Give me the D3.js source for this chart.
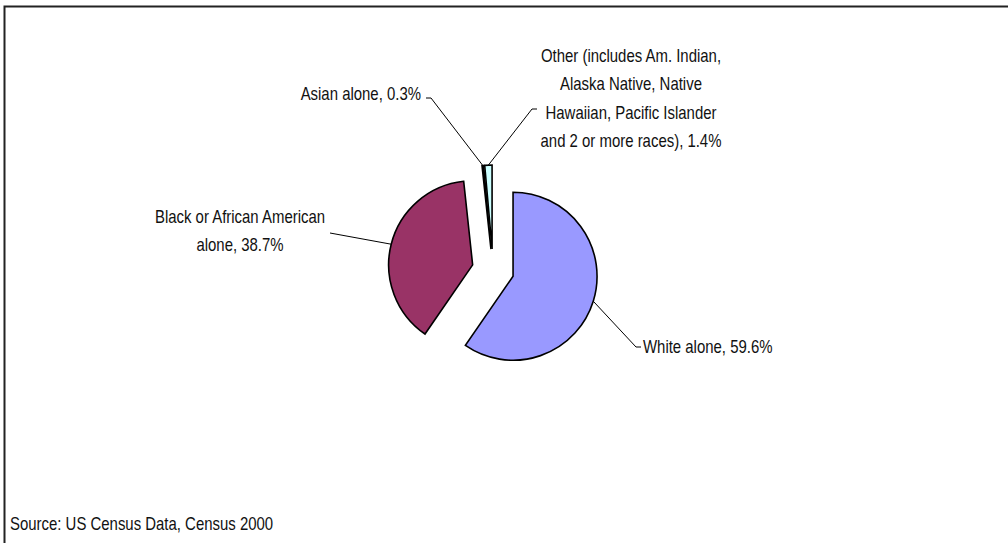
<!DOCTYPE html>
<html>
<head>
<meta charset="utf-8">
<script src="https://cdn.jsdelivr.net/npm/d3@7"></script>
<style>
    body { margin: 0; background: #fff; }
    svg text { font-family: "Liberation Sans", Arial, sans-serif; font-size: 18px; fill: #111; }
</style>
</head>
<body>
<svg id="chart" width="1008" height="543"></svg>
<script>
// data
var categories = ["White alone", "Black or African American alone", "Asian alone",
    "Other (includes Am. Indian, Alaska Native, Native Hawaiian, Pacific Islander and 2 or more races)"];
var shares = [59.6, 38.7, 0.3, 1.4];
var colors = ["#9999ff", "#993366", "#ffffcc", "#ccffff"];
var labelLines = [
    ["White alone, 59.6%"],
    ["Black or African American", "alone, 38.7%"],
    ["Asian alone, 0.3%"],
    ["Other (includes Am. Indian,", "Alaska Native, Native", "Hawaiian, Pacific Islander", "and 2 or more races), 1.4%"]
];

var svg = d3.select("#chart");
var squeeze = 0.83; // the original text is a narrow face

// chart area border (runs off the right and bottom edge)
svg.append("path")
    .attr("d", "M4.5,543V6.5H1008")
    .attr("fill", "none")
    .attr("stroke", "#222")
    .attr("stroke-width", 2);

var cx = 493, cy = 270, radius = 84, explode = 21;

var pie = d3.pie().sort(null).value(function(d) { return d; });
var arcs = pie(shares);
var arc = d3.arc().innerRadius(0).outerRadius(radius);

function mid(d) { return (d.startAngle + d.endAngle) / 2; }
function offset(d) {
    var a = mid(d);
    return [explode * Math.sin(a), -explode * Math.cos(a)];
}
// point on the rim of the exploded slice, at its middle angle
function rim(d) {
    var a = mid(d), o = offset(d);
    return [cx + o[0] + radius * Math.sin(a), cy + o[1] - radius * Math.cos(a)];
}

var g = svg.append("g").attr("transform", "translate(" + cx + "," + cy + ")");
g.selectAll("path.slice")
    .data(arcs)
    .enter().append("path")
    .attr("class", "slice")
    .attr("transform", function(d) { var o = offset(d); return "translate(" + o[0] + "," + o[1] + ")"; })
    .attr("d", arc)
    .attr("fill", function(d, i) { return colors[i]; })
    .attr("stroke", "#000")
    .attr("stroke-width", 1.6)
    .attr("stroke-linejoin", "miter");

function narrowText(x, y, anchor, lines) {
    var t = svg.append("text")
        .attr("text-anchor", anchor)
        .attr("transform", "translate(" + x + "," + y + ") scale(" + squeeze + ",1)");
    lines.forEach(function(s, k) {
        t.append("tspan").attr("x", 0).attr("y", k * 28.5).text(s);
    });
}

// label layout: text anchor, first baseline, leader elbow points
var layout = [
    {x: 643, y: 353, anchor: "start", leader: function(p) { return [p, [636, 347], [641, 347]]; }},
    {x: 240, y: 223, anchor: "middle", leader: function(p) { return [[330, 233], p]; }},
    {x: 421, y: 100, anchor: "end", leader: function(p) { return [[426, 98], [431, 98], p]; }},
    {x: 631, y: 62, anchor: "middle", leader: function(p) { return [[537, 109], [532, 109], p]; }}
];

var line = d3.line();
arcs.forEach(function(d, i) {
    var L = layout[i];
    svg.append("path")
        .attr("d", line(L.leader(rim(d))))
        .attr("fill", "none")
        .attr("stroke", "#000")
        .attr("stroke-width", 1);
    narrowText(L.x, L.y, L.anchor, labelLines[i]);
});

narrowText(10, 530, "start", ["Source: US Census Data, Census 2000"]);
</script>
</body>
</html>
